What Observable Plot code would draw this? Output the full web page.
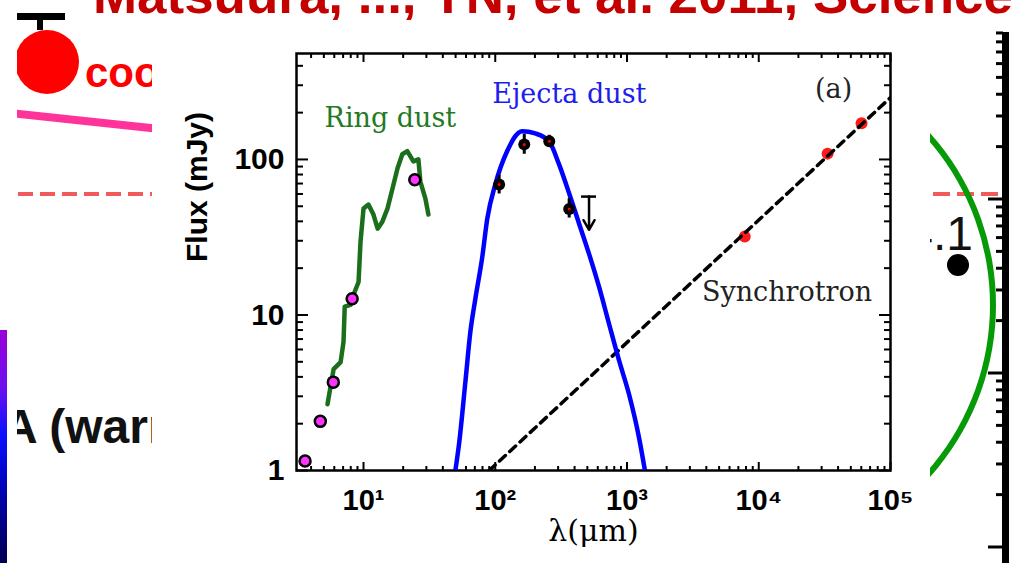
<!DOCTYPE html>
<html><head><meta charset="utf-8">
<script src="https://cdn.jsdelivr.net/npm/d3@7"></script>
<script src="https://cdn.jsdelivr.net/npm/@observablehq/plot@0.6"></script>
<style>
html,body{margin:0;padding:0;background:#fff;overflow:hidden;}
#page{position:relative;width:1019px;height:563px;overflow:hidden;}
#deco{position:absolute;left:0;top:0;}
#chart{position:absolute;left:152px;top:20px;width:778px;height:543px;background:#fff;}
</style></head><body>
<div id="page"><svg id="deco" width="1019" height="563"></svg><div id="chart"></div></div>
<script>
// ---------- chart data ----------
const xTickValues = [10, 100, 1000, 10000, 100000];
const xTickLabels = ["10¹", "10²", "10³", "10⁴", "10⁵"];
const yTickValues = [1, 10, 100];
const yTickLabels = ["1", "10", "100"];

// Ring dust spectrum (green)
const ringSpecLam  = [5.33, 5.93, 6.70, 7.05, 7.2, 7.97, 8.40, 9.17, 9.49, 10.0, 10.9, 11.9, 12.8, 13.9, 15.2, 16.6, 18.1, 19.7, 21.5, 23.9, 26.1, 27.0, 29.5, 31.1];
const ringSpecFlux = [2.67, 4.48, 4.97, 6.70, 11.3, 11.6, 13.5, 16.3, 29.6, 48.3, 51.3, 44.2, 35.9, 39.8, 48.3, 65.0, 87.5, 108, 113, 97.1, 100, 72.1, 56.0, 44.2];
// Ring dust photometry (magenta points)
const ringPhotLam  = [3.6, 4.7, 5.9, 8.2, 24.5];
const ringPhotFlux = [1.15, 2.07, 3.7, 12.7, 74];
// Ejecta dust model (blue)
const ejectaModelLam  = [49.8, 53.3, 59.3, 64.7, 70.6, 79.7, 87, 100, 123, 160, 201, 256, 305, 364, 433, 515, 613, 731, 869, 1036, 1233, 1368];
const ejectaModelFlux = [1.0, 1.52, 3.70, 7.77, 12.7, 23.6, 41.6, 69, 113, 152, 147, 131, 92.9, 60.4, 38.6, 24.7, 15.2, 8.75, 5.12, 3.09, 1.63, 1.0];
// Ejecta photometry (black points with error bars)
const ejectaLam  = [107, 166, 257, 364];
const ejectaFlux = [69, 125, 131, 48];
const ejectaLo   = [60, 108, 120, 42];
const ejectaHi   = [79, 145, 143, 56];
// Upper limit
const limitLam  = [515];
const limitTop  = [57.7];
const limitTip  = [35.3];
// Synchrotron power law (dashed)
const synchLam  = [90, 100000];
const synchFlux = [1.0, 250];
// Radio points (red)
const radioLam  = [7830, 33300, 60300];
const radioFlux = [31.9, 109, 171];
// Labels
const labelText  = ["Ring dust", "Ejecta dust", "(a)", "Synchrotron"];
const labelLam   = [16, 365, 37000, 16400];
const labelFlux  = [184, 261, 283, 13.9];
const labelColor = ["#237a23", "#1d1dee", "#222222", "#222222"];

const title = "Matsuura, ..., YN, et al. 2011, Science";

// ---------- build tables ----------
const ringSpec = ringSpecLam.map((l, i) => ({lam: l, flux: ringSpecFlux[i]}));
const ringPhot = ringPhotLam.map((l, i) => ({lam: l, flux: ringPhotFlux[i]}));
const ejectaModel = ejectaModelLam.map((l, i) => ({lam: l, flux: ejectaModelFlux[i]}));
const ejecta = ejectaLam.map((l, i) => ({lam: l, flux: ejectaFlux[i], lo: ejectaLo[i], hi: ejectaHi[i]}));
const limits = limitLam.map((l, i) => ({lam: l, top: limitTop[i], tip: limitTip[i]}));
const synch = synchLam.map((l, i) => ({lam: l, flux: synchFlux[i]}));
const radio = radioLam.map((l, i) => ({lam: l, flux: radioFlux[i]}));
const labels = labelText.map((t, i) => ({text: t, lam: labelLam[i], flux: labelFlux[i], color: labelColor[i]}));

const xMinor = [], yMinor = [];
for (let e = 0; e < 5; e++) for (let k = 2; k < 10; k++) { const v = k * 10 ** e; if (v > 3.1 && v < 1e5) xMinor.push(v); }
for (let e = 0; e < 3; e++) for (let k = 2; k < 10; k++) { const v = k * 10 ** e; if (v < 480) yMinor.push(v); }

const tickOpts = {fill: "none", stroke: "black", strokeWidth: 2, label: null};

const chart = Plot.plot({
  width: 778, height: 543,
  marginLeft: 144, marginRight: 40, marginTop: 33, marginBottom: 93,
  x: {type: "log", domain: [3.1, 1e5], label: null},
  y: {type: "log", domain: [1, 480], label: null},
  style: {background: "white", color: "black", fontFamily: "'Liberation Sans', Arial, sans-serif"},
  marks: [
    Plot.axisX(xTickValues, {...tickOpts, anchor: "bottom", tickSize: -8}),
    Plot.axisX(xMinor, {...tickOpts, anchor: "bottom", tickSize: -4}),
    Plot.axisX(xTickValues, {...tickOpts, anchor: "top", tickSize: -8}),
    Plot.axisX(xMinor, {...tickOpts, anchor: "top", tickSize: -4}),
    Plot.axisY(yTickValues, {...tickOpts, anchor: "left", tickSize: -12}),
    Plot.axisY(yMinor, {...tickOpts, anchor: "left", tickSize: -7}),
    Plot.axisY(yTickValues, {...tickOpts, anchor: "right", tickSize: -12}),
    Plot.axisY(yMinor, {...tickOpts, anchor: "right", tickSize: -7}),
    Plot.axisX(xTickValues, {anchor: "bottom", tickSize: 0, tickPadding: 19, label: null,
      tickFormat: d => xTickLabels[xTickValues.indexOf(d)], fontSize: 29, fontWeight: "bold", fill: "black"}),
    Plot.axisY(yTickValues, {anchor: "left", tickSize: 0, tickPadding: 12, label: null,
      tickFormat: d => yTickLabels[yTickValues.indexOf(d)], fontSize: 30, fontWeight: "bold", fill: "black"}),
    Plot.frame({stroke: "black", strokeWidth: 2.5}),
    Plot.dot(radio, {x: "lam", y: "flux", r: 6, fill: "#ff1a1a"}),
    Plot.line(synch, {x: "lam", y: "flux", stroke: "black", strokeWidth: 3.5, strokeDasharray: "8,6", clip: true}),
    Plot.line(ejectaModel, {x: "lam", y: "flux", stroke: "#0000ff", strokeWidth: 4.5, curve: "monotone-x", clip: true}),
    Plot.line(ringSpec, {x: "lam", y: "flux", stroke: "#1b6e1b", strokeWidth: 4.5, clip: true}),
    Plot.dot(ringPhot, {x: "lam", y: "flux", r: 5.5, fill: "#ff33ff", stroke: "black", strokeWidth: 2.5}),
    Plot.ruleX(ejecta, {x: "lam", y1: "lo", y2: "hi", stroke: "black", strokeWidth: 3}),
    Plot.dot(ejecta, {x: "lam", y: "flux", r: 6, fill: "black"}),
    Plot.dot(ejecta, {x: "lam", y: "flux", r: 1.5, fill: "red"}),
    Plot.ruleY(limits, {y: "top", x1: d => d.lam / 1.14, x2: d => d.lam * 1.14, stroke: "black", strokeWidth: 2.5}),
    Plot.arrow(limits, {x1: "lam", y1: "top", x2: "lam", y2: "tip", stroke: "black", strokeWidth: 2.5, headLength: 10}),
    Plot.text(labels, {x: "lam", y: "flux", text: "text", fill: "color", fontSize: 27, fontFamily: "'DejaVu Serif', serif"}),
    Plot.text(["Flux (mJy)"], {text: d => d, frameAnchor: "left", dx: -99, rotate: -90, fontSize: 30, fontWeight: "bold", fill: "black"}),
    Plot.text(["λ(μm)"], {text: d => d, frameAnchor: "bottom", dy: 70, fontSize: 30, fontFamily: "'DejaVu Serif', serif", fill: "black"})
  ]
});
document.getElementById("chart").appendChild(chart);

// ---------- slide background fragments (decoration) ----------
const deco = d3.select("#deco");
const defs = deco.append("defs");
defs.append("clipPath").attr("id", "clipL").append("rect").attr("x", 17).attr("y", 0).attr("width", 1002).attr("height", 563);
const grad = defs.append("linearGradient").attr("id", "cb").attr("x1", 0).attr("y1", 0).attr("x2", 0).attr("y2", 1);
[["0%", "#9a00d8"], ["25%", "#6a10f0"], ["45%", "#0a10ff"], ["70%", "#0000b0"], ["100%", "#000050"]]
  .forEach(([o, c]) => grad.append("stop").attr("offset", o).attr("stop-color", c));

deco.append("rect").attr("x", 0).attr("y", 330).attr("width", 7).attr("height", 233).attr("fill", "url(#cb)");

const gl = deco.append("g").attr("clip-path", "url(#clipL)");
gl.append("rect").attr("x", 17).attr("y", 13).attr("width", 48).attr("height", 7).attr("fill", "black");
gl.append("rect").attr("x", 37).attr("y", 19).attr("width", 6).attr("height", 11).attr("fill", "black");
gl.append("circle").attr("cx", 47).attr("cy", 62).attr("r", 32).attr("fill", "#ff0000");
gl.append("text").attr("x", 85).attr("y", 87).attr("font-family", "'Liberation Sans', Arial, sans-serif")
  .attr("font-weight", "bold").attr("font-size", 42).attr("fill", "#ff0000").text("cool");
gl.append("line").attr("x1", 10).attr("y1", 113).attr("x2", 160).attr("y2", 129).attr("stroke", "#ff3399").attr("stroke-width", 8);
gl.append("line").attr("x1", 18).attr("y1", 194).attr("x2", 160).attr("y2", 194).attr("stroke", "#f05a5a")
  .attr("stroke-width", 4).attr("stroke-dasharray", "15,7");
gl.append("text").attr("x", 3).attr("y", 443).attr("font-family", "'Liberation Sans', Arial, sans-serif")
  .attr("font-weight", "bold").attr("font-size", 48).attr("fill", "#111").text("A (warm");

// right side
deco.append("line").attr("x1", 933).attr("y1", 194).attr("x2", 1003).attr("y2", 194).attr("stroke", "#f05a5a")
  .attr("stroke-width", 4).attr("stroke-dasharray", "17,7");
deco.append("path").attr("d", d3.arc()({innerRadius: 251, outerRadius: 257, startAngle: 0.2, endAngle: Math.PI - 0.2}))
  .attr("transform", "translate(739,305)").attr("fill", "#079a07");
deco.append("text").attr("x", 973).attr("y", 250).attr("text-anchor", "end")
  .attr("font-family", "'Liberation Sans', Arial, sans-serif").attr("font-size", 48).attr("fill", "#111").text("4.1");
deco.append("circle").attr("cx", 958).attr("cy", 265).attr("r", 11).attr("fill", "black");

const ry = d3.scaleLog().domain([0.1, 100]).range([547, 25]);
deco.append("rect").attr("x", 1002).attr("y", 32).attr("width", 7).attr("height", 531).attr("fill", "black");
ry.ticks().filter(v => ry(v) > 32 && ry(v) < 563).forEach(v => {
  const major = Math.abs(Math.log10(v) - Math.round(Math.log10(v))) < 1e-6;
  deco.append("line").attr("x1", major ? 988 : 996).attr("x2", 1003).attr("y1", ry(v)).attr("y2", ry(v))
    .attr("stroke", "black").attr("stroke-width", 3);
});

deco.append("text").attr("x", 93).attr("y", 13).attr("font-family", "'Liberation Sans', Arial, sans-serif")
  .attr("font-weight", "bold").attr("font-size", 52).attr("fill", "#c40000")
  .attr("textLength", 920).attr("lengthAdjust", "spacingAndGlyphs").text(title);
</script>
</body></html>
